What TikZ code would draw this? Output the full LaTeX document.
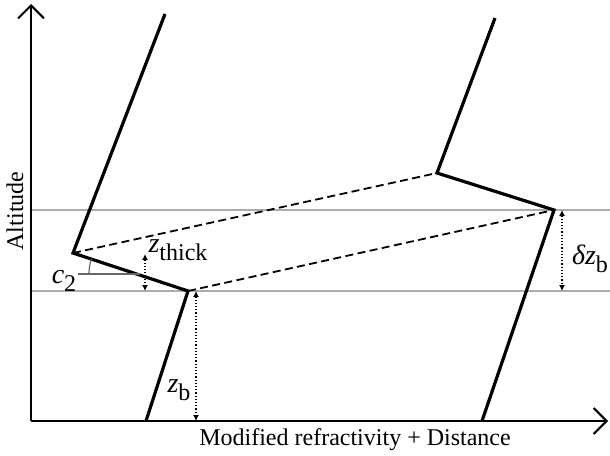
\documentclass[tikz,border=0pt]{standalone}
\usepackage{fontspec}
\setmainfont{Liberation Serif}
\usetikzlibrary{arrows.meta}
\tikzset{profile/.style={line width=1.6pt, line join=miter},
  axis/.style={line width=1pt, -{Straight Barb[length=6.5pt,width=13pt,line width=1pt]}},
  level/.style={gray!65, line width=0.6pt},
  link/.style={line width=0.9pt, dash pattern=on 4pt off 2.2pt},
  gap/.style={line width=0.6pt, densely dotted, {Latex[length=3pt,width=3pt]}-{Latex[length=3pt,width=3pt]}},
  sym/.style={font=\fontsize{14}{16}\selectfont\itshape, inner sep=1pt}}
\newcommand{\lowsub}[1]{\raisebox{-0.6ex}{\fontsize{12}{13}\selectfont\upshape #1}}

\begin{document}
\begin{tikzpicture}[x=0.5pt, y=-0.5pt, font=\fontsize{12}{14}\selectfont]
\useasboundingbox (0,0) rectangle (610,455);
% corners of the two profiles
\coordinate (Ltop) at (165,14);
\coordinate (Lmin) at (73,253);
\coordinate (Lbase) at (188,291);
\coordinate (Lfoot) at (146,421);
\coordinate (Rtop) at (495,18);
\coordinate (Rmin) at (437,173);
\coordinate (Rbase) at (554,210);
\coordinate (Rfoot) at (482,421);
% axes
\coordinate (O) at (31,421);
\coordinate (ytip) at (31,4);
\coordinate (xtip) at (608,421);
% levels
\draw[level] (31,210) coordinate (hiL) -- (610,210) coordinate (hiR);
\draw[level] (31,291) coordinate (loL) -- (610,291) coordinate (loR);
\draw[axis] (O) -- (ytip);
\draw[axis] (O) -- (xtip);
% displacement between the profiles
\draw[link] (Lmin) -- (Rmin);
\draw[link] (Lbase) -- (Rbase);
\draw[profile] (Ltop) -- (Lmin) -- (Lbase) -- (Lfoot);
\draw[profile] (Rtop) -- (Rmin) -- (Rbase) -- (Rfoot);
% slope angle
\coordinate (cv) at (140,274);
\draw[gray!80!black, line width=0.6pt] (78,274) coordinate (cl) -- (cv);
\draw[gray!80!black, line width=0.6pt] (cv) ++(180:51) arc (180:197:51);
% thicknesses
\draw[gap] (145,254) coordinate (ta) -- (145,291) coordinate (tb);
\draw[gap] (196,291) coordinate (ba) -- (196,421) coordinate (bb);
\draw[gap] (562,210) coordinate (da) -- (562,291) coordinate (db);
\node[sym] (zthick) at (178,250) {z\lowsub{thick}};
\node[sym] (zb) at (179,390) {z\lowsub{b}};
\node[sym] (dzb) at (590,259) {δz\lowsub{b}};
\node[sym] (ctwo) at (64,281) {c\lowsub{2}};
\node[rotate=90] (alt) at (15,211) {Altitude};
\node (xlab) at (355,440) {Modified refractivity + Distance};
\end{tikzpicture}
\end{document}
